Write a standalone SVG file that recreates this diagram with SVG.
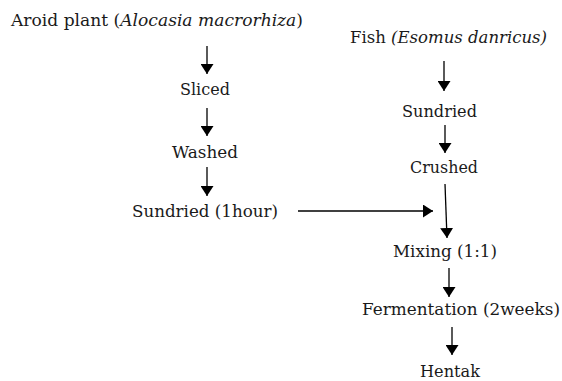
<svg xmlns="http://www.w3.org/2000/svg" width="562" height="381" viewBox="0 0 562 381">
<style>
text{font-family:"DejaVu Serif","Liberation Serif",serif;font-size:16.5px;fill:#1a1a1a}
.i{font-style:italic}
.c line{stroke:#000;stroke-width:1.3}
</style>
<defs>
<marker id="ah" markerWidth="10" markerHeight="13" refX="10" refY="6.5" orient="auto" markerUnits="userSpaceOnUse">
<path d="M0,0 L10,6.5 L0,13 Z" fill="#000"/>
</marker>
</defs>
<rect width="562" height="381" fill="#fff"/>
<g id="aroid"><text x="11" y="26" textLength="292" lengthAdjust="spacingAndGlyphs">Aroid plant (<tspan class="i">Alocasia macrorhiza</tspan>)</text></g>
<g id="sliced"><text x="180" y="95" textLength="50" lengthAdjust="spacingAndGlyphs">Sliced</text></g>
<g id="washed"><text x="172" y="158" textLength="66" lengthAdjust="spacingAndGlyphs">Washed</text></g>
<g id="sundried1"><text x="132" y="217" textLength="146" lengthAdjust="spacingAndGlyphs">Sundried (1hour)</text></g>
<g id="fish"><text x="350" y="43" textLength="197" lengthAdjust="spacingAndGlyphs">Fish <tspan class="i">(Esomus danricus)</tspan></text></g>
<g id="sundried2"><text x="402" y="117" textLength="75" lengthAdjust="spacingAndGlyphs">Sundried</text></g>
<g id="crushed"><text x="410" y="173" textLength="68" lengthAdjust="spacingAndGlyphs">Crushed</text></g>
<g id="mixing"><text x="393" y="257" textLength="104" lengthAdjust="spacingAndGlyphs">Mixing (1:1)</text></g>
<g id="fermentation"><text x="362" y="315" textLength="198" lengthAdjust="spacingAndGlyphs">Fermentation (2weeks)</text></g>
<g id="hentak"><text x="420" y="377" textLength="60" lengthAdjust="spacingAndGlyphs">Hentak</text></g>
<g class="c" id="connectors">
<line x1="207" y1="46" x2="207" y2="74" marker-end="url(#ah)"/>
<line x1="207" y1="108" x2="207" y2="136" marker-end="url(#ah)"/>
<line x1="207" y1="167" x2="207" y2="196" marker-end="url(#ah)"/>
<line x1="444" y1="61" x2="444" y2="91" marker-end="url(#ah)"/>
<line x1="445" y1="125" x2="445" y2="153" marker-end="url(#ah)"/>
<line x1="298" y1="211" x2="433" y2="211" marker-end="url(#ah)"/>
<line x1="445" y1="184" x2="447" y2="238" marker-end="url(#ah)"/>
<line x1="449" y1="268" x2="449" y2="297" marker-end="url(#ah)"/>
<line x1="452" y1="327" x2="452" y2="355" marker-end="url(#ah)"/>
</g>
</svg>
